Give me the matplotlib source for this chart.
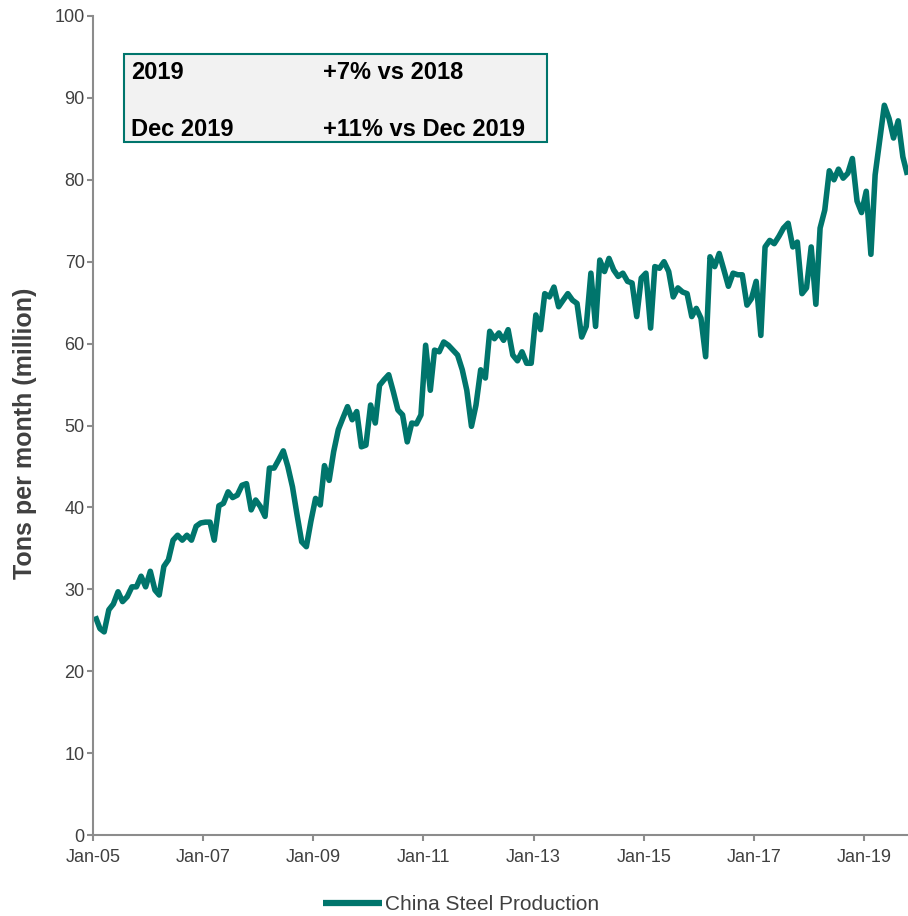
import matplotlib
matplotlib.use("Agg")
import matplotlib.pyplot as plt
import matplotlib.dates as mdates
from matplotlib.patches import Rectangle
import pandas as pd

plt.rcParams['font.family'] = ['Liberation Sans', 'DejaVu Sans']

# Monthly crude steel output, million tonnes, Jan 2005 onward
production = [
    26.7, 25.2, 24.8, 27.5, 28.2, 29.7, 28.5, 29.1, 30.3, 30.3, 31.6, 30.3,   # 2005
    32.2, 29.9, 29.3, 32.8, 33.6, 36.0, 36.6, 36.0, 36.6, 36.0, 37.7, 38.1,   # 2006
    38.2, 38.2, 36.0, 40.2, 40.5, 41.9, 41.2, 41.5, 42.7, 42.9, 39.7, 40.9,   # 2007
    40.1, 38.9, 44.8, 44.8, 45.8, 46.9, 45.0, 42.5, 39.0, 35.8, 35.2, 38.3,   # 2008
    41.1, 40.3, 45.1, 43.3, 46.8, 49.5, 50.9, 52.3, 50.7, 51.7, 47.4, 47.6,   # 2009
    52.5, 50.3, 54.9, 55.6, 56.2, 54.1, 51.9, 51.3, 48.0, 50.3, 50.2, 51.3,   # 2010
    59.8, 54.3, 59.2, 59.0, 60.2, 59.8, 59.2, 58.6, 56.8, 54.3, 49.9, 52.5,   # 2011
    56.8, 55.8, 61.5, 60.6, 61.3, 60.4, 61.7, 58.6, 57.9, 59.0, 57.6, 57.6,   # 2012
    63.5, 61.7, 66.1, 65.7, 66.9, 64.5, 65.3, 66.1, 65.3, 64.9, 60.8, 62.1,   # 2013
    68.6, 62.1, 70.2, 68.8, 70.4, 69.0, 68.2, 68.6, 67.6, 67.4, 63.3, 68.0,   # 2014
    68.6, 61.9, 69.4, 69.2, 70.0, 68.8, 65.7, 66.8, 66.3, 66.1, 63.3, 64.3,   # 2015
    63.1, 58.4, 70.6, 69.4, 71.0, 69.0, 67.0, 68.6, 68.4, 68.4, 64.7, 65.5,   # 2016
    67.6, 61.0, 71.8, 72.6, 72.2, 73.1, 74.1, 74.7, 71.8, 72.4, 66.1, 66.8,   # 2017
    71.8, 64.8, 74.1, 76.3, 81.1, 80.0, 81.3, 80.2, 80.8, 82.6, 77.4, 76.0,   # 2018
    78.6, 70.9, 80.6, 84.9, 89.1, 87.5, 85.1, 87.2, 82.8, 80.6,               # 2019
]
tick_dates = ["2005-01-01", "2007-01-01", "2009-01-01", "2011-01-01",
              "2013-01-01", "2015-01-01", "2017-01-01", "2019-01-01"]
series_name = "China Steel Production"
y_label = "Tons per month (million)"
summary_periods = ["2019", "Dec 2019"]
summary_changes = ["+7% vs 2018", "+11% vs Dec 2019"]

teal = "#00756c"
axis_grey = "#8c8c8c"
text_grey = "#404040"

# Each month is centred in its slot on the date axis
months = pd.date_range("2005-01-01", periods=len(production), freq="MS") + pd.Timedelta(days=15)

W, H = 908, 916
fig = plt.figure(figsize=(W / 100, H / 100), dpi=100)
ax = fig.add_axes([93 / W, (H - 835) / H, 1 - 93 / W, (835 - 16) / H])

ax.plot(months, production, color=teal, lw=4.0, solid_joinstyle="round",
        solid_capstyle="butt", label=series_name)

ax.set_ylim(0, 100)
ax.set_yticks(range(0, 101, 10))
ax.set_xlim(pd.Timestamp("2005-01-01"), pd.Timestamp("2019-10-20"))
ax.set_xticks(pd.to_datetime(tick_dates))
ax.xaxis.set_major_formatter(mdates.DateFormatter("%b-%y"))

for side in ("top", "right"):
    ax.spines[side].set_visible(False)
for side in ("left", "bottom"):
    ax.spines[side].set_color(axis_grey)
    ax.spines[side].set_linewidth(1.5)

ax.tick_params(axis="both", direction="out", length=4, width=1.5, color=axis_grey,
               labelcolor=text_grey, labelsize=13)
ax.tick_params(axis="y", pad=2)
ax.tick_params(axis="x", pad=6)

ax.set_ylabel(y_label, fontsize=18, fontweight="bold", color=text_grey)
ax.yaxis.set_label_coords((37 - 93) / 815, (835 - 433) / 819)

# Summary box in the upper-left corner
fig.patches.append(Rectangle((124 / W, 1 - 142 / H), (547 - 124) / W, (142 - 54) / H,
                             transform=fig.transFigure, facecolor="#f2f2f2",
                             edgecolor=teal, lw=1.5, zorder=5))
for row, (period, change) in enumerate(zip(summary_periods, summary_changes)):
    base = 79 + row * 57
    fig.text(131 / W, 1 - base / H, period, fontsize=17, fontweight="bold",
             color="black", va="baseline", zorder=6)
    fig.text(323 / W, 1 - base / H, change, fontsize=17, fontweight="bold",
             color="black", va="baseline", zorder=6)

fig.legend(loc="center", bbox_to_anchor=(461 / W, 1 - 905 / H), frameon=False,
           fontsize=15, handlelength=2.8, handletextpad=0.15, labelcolor=text_grey)
for line in fig.legends[0].get_lines():
    line.set_linewidth(4.5)

fig.savefig("out.png", dpi=100)
